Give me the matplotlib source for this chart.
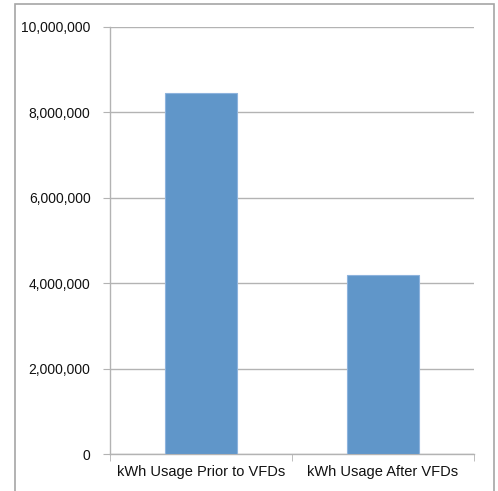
import matplotlib
matplotlib.use('Agg')
import matplotlib.pyplot as plt
from matplotlib.patches import Rectangle
from matplotlib.ticker import FuncFormatter, FixedLocator

categories = ['kWh Usage Prior to VFDs', 'kWh Usage After VFDs']
usage_kwh = [8450000, 4200000]
y_ticks = [0, 2000000, 4000000, 6000000, 8000000, 10000000]

plt.rcParams['font.family'] = ['Liberation Sans', 'DejaVu Sans']

fig = plt.figure(figsize=(4.98, 4.91), dpi=100)
ax = fig.add_axes([110 / 498, 37 / 491, 364 / 498, 427 / 491])

# outer chart border
fig.patches.append(Rectangle((15 / 498, -0.05), 479 / 498, 1.05 - 4 / 491,
                             transform=fig.transFigure, fill=False,
                             edgecolor='#a6a6a6', linewidth=1.2))

x = list(range(len(categories)))
ax.bar(x, usage_kwh, width=0.4, color='#6096c9', edgecolor='#8db3dd',
       linewidth=0.8, zorder=3)

ax.set_xlim(-0.5, 1.5)
ax.set_ylim(0, 10000000)
ax.set_yticks(y_ticks)
ax.yaxis.set_major_formatter(FuncFormatter(lambda v, p: f'{int(v):,}'))
ax.set_xticks(x)
ax.set_xticklabels(categories)
ax.xaxis.set_minor_locator(FixedLocator([-0.5, 0.5, 1.5]))

ax.grid(axis='y', color='#b3b3b3', linewidth=1.0, zorder=0)
for side in ['top', 'right']:
    ax.spines[side].set_visible(False)
for side in ['left', 'bottom']:
    ax.spines[side].set_color('#b3b3b3')
    ax.spines[side].set_linewidth(1.0)

ax.tick_params(axis='y', length=5, color='#b3b3b3', labelsize=10, pad=9,
               labelcolor='#111111')
ax.tick_params(axis='x', which='major', length=0, labelsize=10.5, pad=8,
               labelcolor='#111111')
ax.tick_params(axis='x', which='minor', length=5, color='#b3b3b3')

fig.savefig('out.png', dpi=100)
